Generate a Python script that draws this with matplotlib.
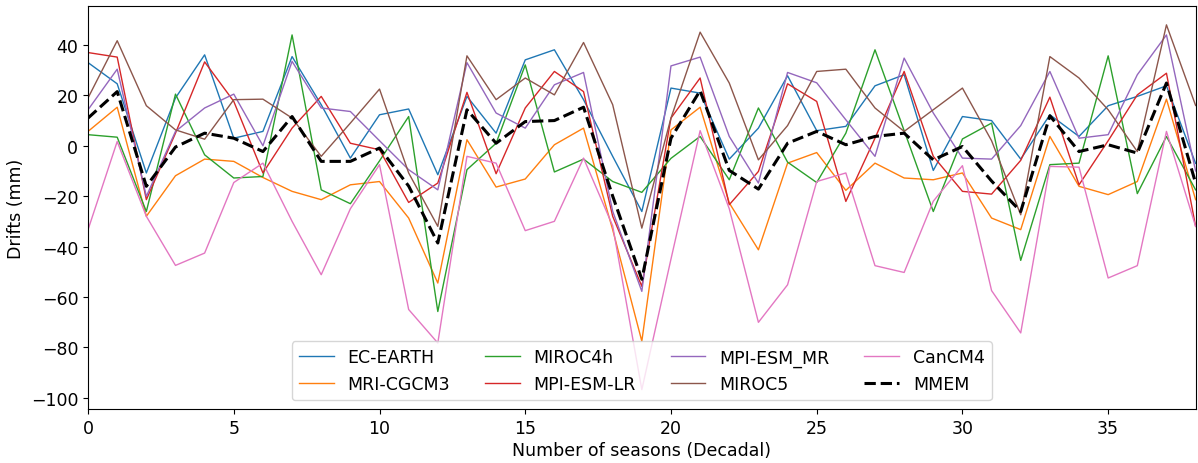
import matplotlib
matplotlib.use("Agg")
import matplotlib.pyplot as plt
import numpy as np

seasons = list(range(39))

ec_earth = [33, 24.6, -10.8, 19, 36.1, 3, 5.7, 35.4, 16.3, -4.9, 12.3, 14.6, -11.5, 19.6, 5, 34.1, 38.1, 18.3, -4.2, -26.1,
            22.9, 20.9, -5.3, 7, 27.8, 6, 7.7, 23.8, 28.2, -9.8, 11.6, 10, -5.3, 12.3, 3.7, 15.9, 19.6, 23.8, -7]
mri_cgcm3 = [5.7, 15.3, -28, -11.9, -5.3, -6.2, -12.6, -18.1, -21.4, -15.5, -14.2, -28.7, -54.5, 2.4, -16.4, -13.2, 0.4, 7, -33.3, -77.6,
             6.3, 15.3, -22.7, -41.3, -6.9, -2.7, -17.7, -6.9, -12.8, -13.5, -10.8, -28.7, -33.3, 3.7, -16.1, -19.4, -14.2, 18.5, -21.4]
miroc4h = [4.4, 3.4, -26.1, 20.5, -3.6, -12.8, -12.2, 44, -17.5, -23, -6, 11.6, -65.8, -9.5, 1, 32.1, -10.4, -5.3, -14.2, -18.5,
           -5, 3.7, -13.5, 15, -6.5, -14.6, 5, 38.1, 6, -26.1, 2.7, 9, -45.5, -7.5, -6.9, 35.7, -19, 3.7, -17.5]
mpi_esm_lr = [37, 35.2, -21.4, 5, 33.3, 17.6, -10.8, 7, 19.6, 1, -1.6, -22.5, -14.8, 21.2, -11.1, 15, 29.5, 21.5, -28, -55.8,
              11, 26.9, -23.4, -10.2, 24.6, 17.6, -22.1, 3, 29.5, -4.2, -18.1, -19.2, -5.8, 19.3, -15.5, 2, 20.2, 28.8, -32]
mpi_esm_mr = [14.3, 30.4, -20.1, 5.7, 15, 20.5, 0, 33.5, 15, 13.6, 2, -9.5, -17.5, 33, 13, 7, 24.2, 29.1, -26, -57.8,
              31.7, 35.2, 3.7, -14.8, 29.1, 25, 10.3, -4.2, 34.8, 13, -4.9, -5.3, 8, 29.5, 3, 4.4, 28.2, 44, -10]
miroc5 = [19, 41.7, 15.9, 6.3, 2.6, 18.3, 18.5, 11, -4.2, 9, 22.5, -10.8, -32, 35.7, 18.3, 26.9, 20.2, 41, 16.3, -32.7,
          11, 45.1, 24.9, -5.6, 8, 29.5, 30.4, 15, 5.7, 14.3, 22.9, 2, -27.4, 35.4, 26.9, 14.3, -2.3, 48, 16]
cancm4 = [-33.3, 1.7, -28, -47.5, -42.6, -14.6, -6.9, -30, -51.2, -25, -7.5, -65, -78.3, -4.2, -6.9, -33.7, -30, -4.9, -31.8, -96.8,
          -45, 6, -25, -70.1, -55.2, -14.2, -10.8, -47.6, -50.3, -22, -7.9, -57.5, -74.3, -8.2, -8.5, -52.5, -47.6, 5.7, -32]
mmem = [11, 21.5, -16.1, -0.5, 5, 3, -2.3, 11.6, -6.2, -6.2, -0.9, -16, -38.6, 14.3, 1, 9.6, 10, 15.3, -20, -53,
        3, 21.9, -9.8, -17.2, 1, 5.7, 0.4, 3.7, 5, -5.6, -0.3, -14, -26.1, 11.9, -2.3, 0.4, -2.9, 24.9, -14.8]

model_names = ["EC-EARTH", "MRI-CGCM3", "MIROC4h", "MPI-ESM-LR", "MPI-ESM_MR", "MIROC5", "CanCM4"]
model_series = [ec_earth, mri_cgcm3, miroc4h, mpi_esm_lr, mpi_esm_mr, miroc5, cancm4]
colors = ["#1f77b4", "#ff7f0e", "#2ca02c", "#d62728", "#9467bd", "#8c564b", "#e377c2"]

fig = plt.figure(figsize=(11.98, 4.64), dpi=100)
ax = fig.add_axes([0.0735, 0.1164, 0.9245, 0.8686])

for name, vals, c in zip(model_names, model_series, colors):
    ax.plot(seasons, vals, color=c, lw=1.0, label=name)
ax.plot(seasons, mmem, color="black", lw=2.2, ls="--", label="MMEM")

fs = 12.5
ax.set_xlim(0, 38)
ax.set_ylim(-104.5, 55.5)
ax.set_yticks([-100, -80, -60, -40, -20, 0, 20, 40])
ax.set_xticks([0, 5, 10, 15, 20, 25, 30, 35])
ax.tick_params(labelsize=fs)
ax.set_xlabel("Number of seasons (Decadal)", fontsize=fs, labelpad=3)
ax.set_ylabel("Drifts (mm)", fontsize=fs)
ax.legend(ncol=4, loc="lower center", fontsize=fs)

fig.savefig("out.png", dpi=100)
